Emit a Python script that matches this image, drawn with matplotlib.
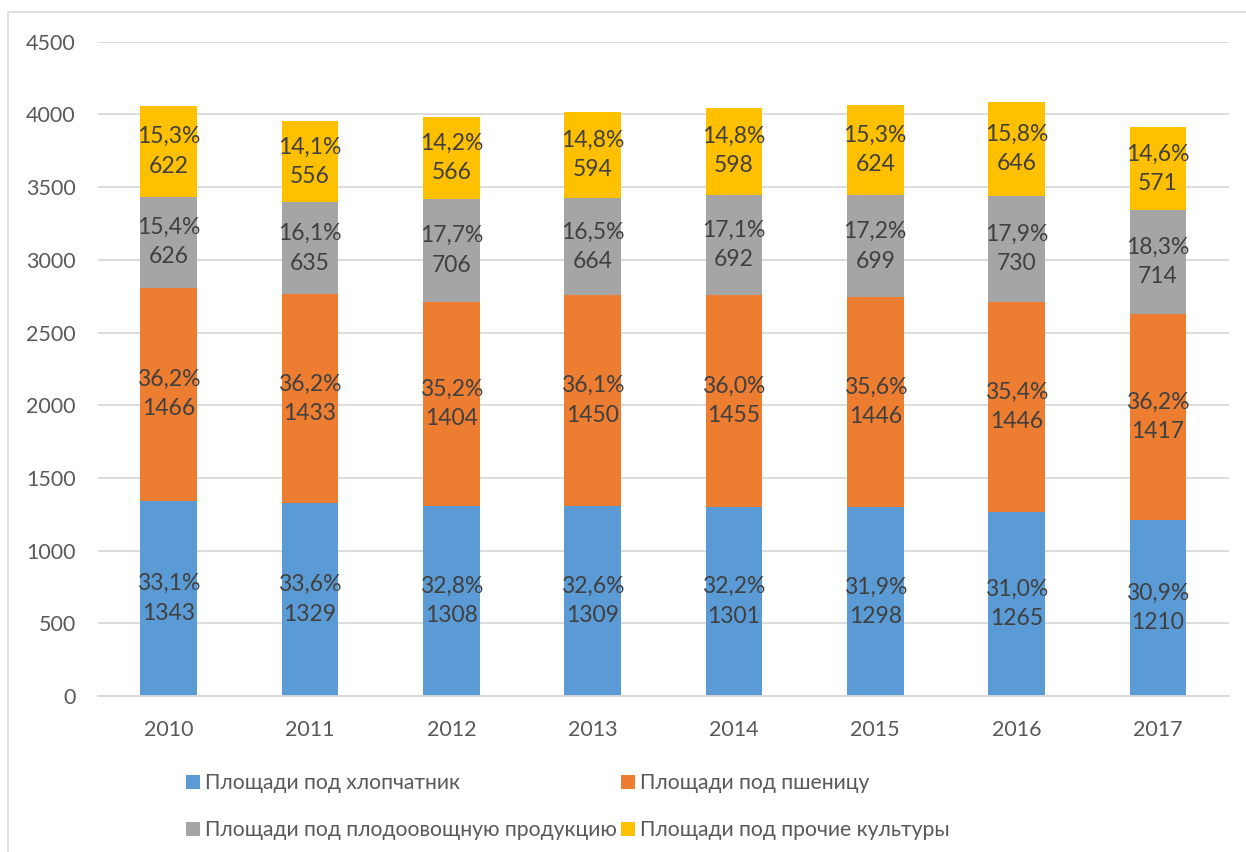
import matplotlib.pyplot as plt
import numpy as np
from matplotlib.patches import Rectangle

plt.rcParams['font.family'] = ['Lato', 'DejaVu Sans']

years = ['2010', '2011', '2012', '2013', '2014', '2015', '2016', '2017']

cotton = [1343, 1329, 1308, 1309, 1301, 1298, 1265, 1210]
wheat = [1466, 1433, 1404, 1450, 1455, 1446, 1446, 1417]
fruit_veg = [626, 635, 706, 664, 692, 699, 730, 714]
other = [622, 556, 566, 594, 598, 624, 646, 571]

cotton_pct = ['33,1%', '33,6%', '32,8%', '32,6%', '32,2%', '31,9%', '31,0%', '30,9%']
wheat_pct = ['36,2%', '36,2%', '35,2%', '36,1%', '36,0%', '35,6%', '35,4%', '36,2%']
fruit_veg_pct = ['15,4%', '16,1%', '17,7%', '16,5%', '17,1%', '17,2%', '17,9%', '18,3%']
other_pct = ['15,3%', '14,1%', '14,2%', '14,8%', '14,8%', '15,3%', '15,8%', '14,6%']

series = [
    ('Площади под хлопчатник', cotton, cotton_pct, '#5B9BD5'),
    ('Площади под пшеницу', wheat, wheat_pct, '#ED7D31'),
    ('Площади под плодоовощную продукцию', fruit_veg, fruit_veg_pct, '#A5A5A5'),
    ('Площади под прочие культуры', other, other_pct, '#FFC000'),
]

fig = plt.figure(figsize=(12.46, 8.52), dpi=100)
ax = fig.add_axes([0.0787, 0.183, 0.9073, 0.768])

# light chart border
fig.patches.append(Rectangle((8 / 1246, -0.01), 1.0, 1 - 12 / 852 + 0.01,
                             transform=fig.transFigure, fill=False,
                             edgecolor='#d9d9d9', linewidth=1.2))

x = np.arange(len(years))
bottom = np.zeros(len(years))
handles = []
for name, vals, pcts, color in series:
    vals = np.array(vals, dtype=float)
    bars = ax.bar(x, vals, width=0.4, bottom=bottom, color=color, label=name, zorder=2)
    handles.append(bars)
    for xi, b, v, p in zip(x, bottom, vals, pcts):
        ax.text(xi, b + v / 2, f'{p}\n{int(v)}', ha='center', va='center',
                fontsize=16.5, color='#404040', linespacing=1.5, zorder=3)
    bottom += vals

ax.set_xlim(-0.5, 7.5)
ax.set_ylim(0, 4500)
ax.set_yticks(range(0, 4501, 500))
ax.set_xticks(x)
ax.set_xticklabels(years)
ax.tick_params(axis='both', length=0, labelsize=15.5, colors='#595959')
ax.tick_params(axis='y', pad=16)
ax.tick_params(axis='x', pad=17)
ax.yaxis.grid(True, color='#d9d9d9', linewidth=1.3, zorder=0)
ax.set_axisbelow(True)
for s in ['top', 'right', 'left']:
    ax.spines[s].set_visible(False)
ax.spines['bottom'].set_color('#d9d9d9')
ax.spines['bottom'].set_linewidth(1.3)

# row-major order: matplotlib fills columns first
order = [0, 2, 1, 3]
leg = fig.legend([handles[i] for i in order], [series[i][0] for i in order],
                 loc='upper left', bbox_to_anchor=(0.134, 0.115), ncol=2,
                 frameon=False, fontsize=15.2, handlelength=0.65, handleheight=0.65,
                 handletextpad=0.25, columnspacing=0.2, labelspacing=1.3)
for t in leg.get_texts():
    t.set_color('#595959')

fig.savefig('out.png', dpi=100)
